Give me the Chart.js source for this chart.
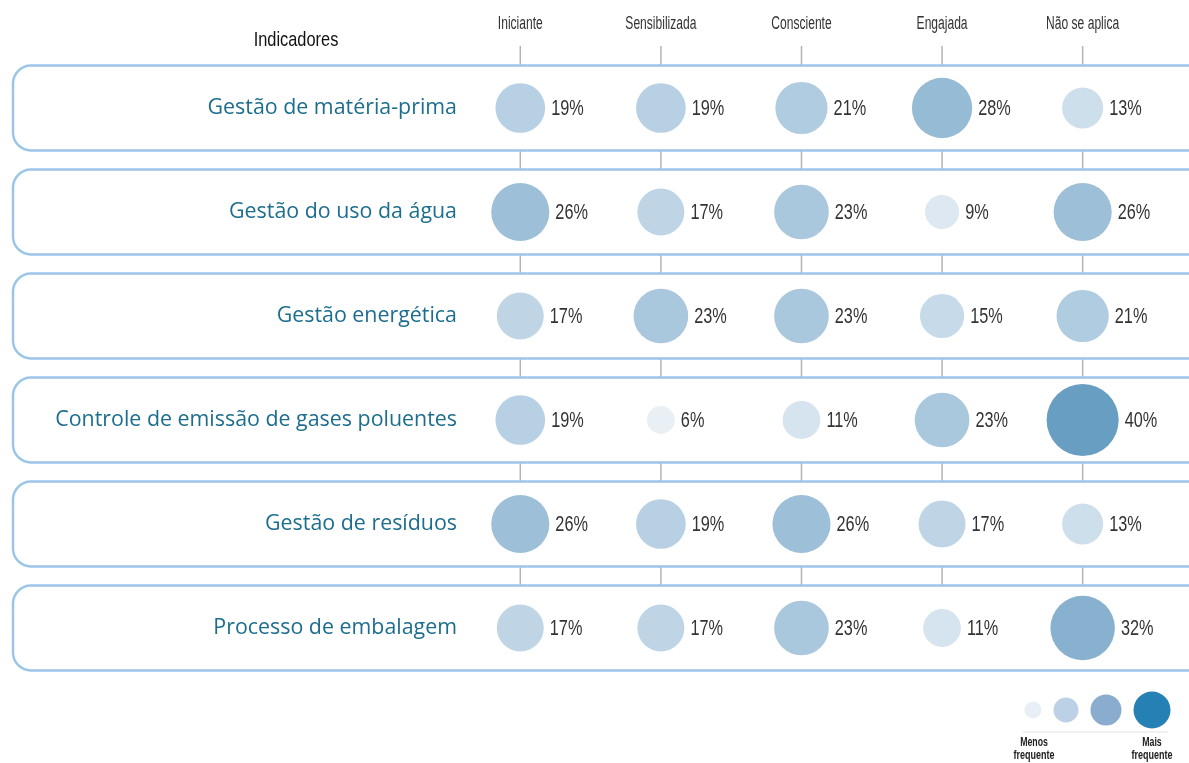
<!DOCTYPE html>
<html lang="pt-BR">
<head>
<meta charset="utf-8">
<title>Indicadores</title>
<script src="https://cdn.jsdelivr.net/npm/chart.js@4.4.1/dist/chart.umd.min.js"></script>
<style>
  html, body { margin: 0; padding: 0; background: #fff; }
  #wrap { width: 1189px; height: 763px; }
</style>
</head>
<body>
<div id="wrap"><canvas id="indicadores_canvas" width="1189" height="763"></canvas></div>
<script>
// Dados (percentuais)
const indicadores = [
  'Gestão de matéria-prima',
  'Gestão do uso da água',
  'Gestão energética',
  'Controle de emissão de gases poluentes',
  'Gestão de resíduos',
  'Processo de embalagem'
];
const niveis = ['Iniciante', 'Sensibilizada', 'Consciente', 'Engajada', 'Não se aplica'];

const iniciante     = [19, 26, 17, 19, 26, 17];
const sensibilizada = [19, 17, 23,  6, 19, 17];
const consciente    = [21, 23, 23, 11, 26, 23];
const engajada      = [28,  9, 15, 23, 17, 11];
const naoSeAplica   = [13, 26, 21, 40, 13, 32];

const series = [iniciante, sensibilizada, consciente, engajada, naoSeAplica];

// Estilo
const sans = '"Liberation Sans", Arial, sans-serif';
const legendaCores = ['#e8eff6', '#bcd1e5', '#8aaccf', '#2580b3'];

// cor e raio dependem do percentual (quanto maior, mais escuro e maior)
function corBolha(v) {
  const f = Math.max(0, Math.min(1, (v - 5) / 55));
  const r = Math.round(236 - 206 * f);
  const g = Math.round(242 - 132 * f);
  const b = Math.round(248 - 83 * f);
  return `rgb(${r},${g},${b})`;
}
function raioBolha(v) {
  return 5.7 * Math.sqrt(v);
}

// não tem fonte condensada instalada -> comprime na horizontal
function textoCondensado(ctx, texto, x, y, fonte, sx, align) {
  ctx.save();
  ctx.font = fonte;
  ctx.textAlign = align || 'left';
  ctx.textBaseline = 'middle';
  ctx.translate(x, y);
  ctx.scale(sx, 1);
  ctx.fillText(texto, 0, 0);
  ctx.restore();
}

const datasets = series.map((valores, col) => ({
  label: niveis[col],
  data: valores.map((v, row) => ({ x: niveis[col], y: indicadores[row], r: raioBolha(v), v: v })),
  backgroundColor: valores.map(corBolha),
  borderWidth: 0,
  hoverBorderWidth: 0
}));

const ALTURA_CAIXA = 85;

// linhas cinzas + caixas arredondadas + cabeçalhos + nomes dos indicadores
const caixasPlugin = {
  id: 'caixas',
  beforeDraw(chart) {
    const { ctx, scales: { x, y } } = chart;
    const half = ALTURA_CAIXA / 2;
    const fim = y.getPixelForValue(indicadores.length - 1) + half;

    ctx.save();
    ctx.strokeStyle = '#b4b4b4';
    ctx.lineWidth = 1.5;
    niveis.forEach((n, i) => {
      const px = x.getPixelForValue(i);
      ctx.beginPath();
      ctx.moveTo(px, 46);
      ctx.lineTo(px, fim);
      ctx.stroke();
    });

    ctx.lineWidth = 2.5;
    ctx.strokeStyle = '#9dc5ea';
    ctx.fillStyle = '#ffffff';
    indicadores.forEach((n, i) => {
      const cy = y.getPixelForValue(i);
      ctx.beginPath();
      ctx.roundRect(13, cy - half, 1200, ALTURA_CAIXA, 18);
      ctx.fill();
      ctx.stroke();
    });

    ctx.fillStyle = '#1d6e8e';
    ctx.font = '21.4px "Open Sans", sans-serif';
    ctx.textAlign = 'right';
    ctx.textBaseline = 'middle';
    indicadores.forEach((n, i) => {
      ctx.fillText(n, 457, y.getPixelForValue(i));
    });

    ctx.fillStyle = '#111';
    textoCondensado(ctx, 'Indicadores', 296, 40, '21px ' + sans, 0.78, 'center');

    ctx.fillStyle = '#333';
    niveis.forEach((n, i) => {
      textoCondensado(ctx, n, x.getPixelForValue(i), 24, '18px ' + sans, 0.67, 'center');
    });
    ctx.restore();
  }
};

// rótulos de percentual ao lado das bolhas
const percentPlugin = {
  id: 'percentuais',
  afterDatasetsDraw(chart) {
    const ctx = chart.ctx;
    ctx.save();
    ctx.fillStyle = '#333';
    chart.data.datasets.forEach((ds, di) => {
      chart.getDatasetMeta(di).data.forEach((el, i) => {
        const v = ds.data[i].v;
        textoCondensado(ctx, v + '%', el.x + el.options.radius + 6, el.y + 1, '22px ' + sans, 0.74);
      });
    });
    ctx.restore();
  }
};

// legenda de tamanhos no canto inferior direito
const legendaPlugin = {
  id: 'legendaTamanhos',
  afterDraw(chart) {
    const ctx = chart.ctx;
    const xs = [1033, 1066, 1106, 1152];
    const rs = [8.5, 12.5, 15.5, 18.5];
    ctx.save();
    xs.forEach((cx, i) => {
      ctx.beginPath();
      ctx.arc(cx, 710, rs[i], 0, Math.PI * 2);
      ctx.fillStyle = legendaCores[i];
      ctx.fill();
    });
    ctx.strokeStyle = '#ececec';
    ctx.lineWidth = 1.5;
    ctx.beginPath();
    ctx.moveTo(1023, 732);
    ctx.lineTo(1168, 732);
    ctx.stroke();

    ctx.fillStyle = '#222';
    const f = 'bold 12.5px ' + sans;
    textoCondensado(ctx, 'Menos', 1034, 743, f, 0.7, 'center');
    textoCondensado(ctx, 'frequente', 1034, 756, f, 0.72, 'center');
    textoCondensado(ctx, 'Mais', 1152, 743, f, 0.7, 'center');
    textoCondensado(ctx, 'frequente', 1152, 756, f, 0.72, 'center');
    ctx.restore();
  }
};

const canvas = document.getElementById('indicadores_canvas');

new Chart(canvas, {
  type: 'bubble',
  data: { datasets: datasets },
  options: {
    responsive: false,
    animation: false,
    devicePixelRatio: 1,
    layout: {
      padding: { top: 16, right: 31, bottom: 83, left: 0 }
    },
    scales: {
      x: {
        type: 'category',
        labels: niveis,
        position: 'top',
        offset: true,
        grid: { display: false, drawTicks: false },
        border: { display: false },
        ticks: { display: false },
        afterFit(scale) {
          scale.height = 40;
        }
      },
      y: {
        type: 'category',
        labels: indicadores,
        offset: true,
        grid: { display: false, drawTicks: false },
        border: { display: false },
        ticks: { display: false },
        afterFit(scale) {
          scale.width = 450;
        }
      }
    },
    plugins: {
      legend: { display: false },
      tooltip: { enabled: false }
    }
  },
  plugins: [caixasPlugin, percentPlugin, legendaPlugin]
});
</script>
</body>
</html>
